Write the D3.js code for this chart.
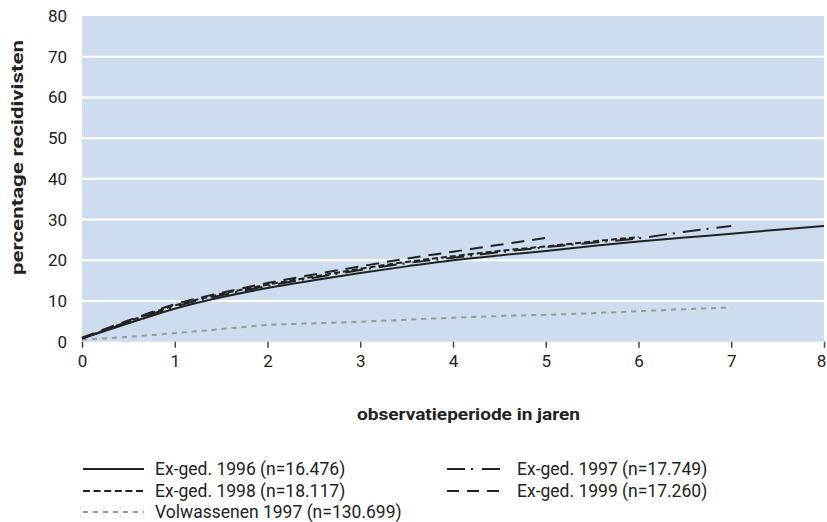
<!DOCTYPE html>
<html><head><meta charset="utf-8">
<script src="https://cdn.jsdelivr.net/npm/d3@7"></script>
<style>
body{margin:0;background:#fff;}
text{font-family:Roboto,"Liberation Sans",sans-serif;fill:#222;}
</style></head>
<body><svg id="c" width="827" height="522"></svg>
<script>
const years = [0,0.5,1,1.5,2,2.5,3,3.5,4,4.5,5,5.5,6,6.5,7,7.5,8];
const s1996 = [0.8,4.5,8.1,10.9,13.2,15.1,16.9,18.5,20.0,21.2,22.3,23.5,24.6,25.6,26.5,27.5,28.4];
const s1997 = [0.8,4.8,8.6,11.4,13.7,15.7,17.6,19.3,20.6,22.0,23.2,24.3,25.4,27.0,28.4];
const s1998 = [0.8,5.0,8.9,11.7,14.0,16.0,17.9,19.6,21.0,22.3,23.4,24.6,25.7];
const s1999 = [1.0,5.2,9.2,12.0,14.4,16.5,18.5,20.4,22.1,23.8,25.5];
const sVolw = [0.5,1.2,2.1,3.1,4.1,4.5,4.9,5.4,5.9,6.3,6.6,7.0,7.5,8.0,8.4];
const xTicks = [0,1,2,3,4,5,6,7,8];
const yTicks = [0,10,20,30,40,50,60,70,80];
const seriesNames = ["Ex-ged. 1996 (n=16.476)","Ex-ged. 1997 (n=17.749)","Ex-ged. 1998 (n=18.117)","Ex-ged. 1999 (n=17.260)","Volwassenen 1997 (n=130.699)"];

const styles = [
  {data:s1996, color:"#222", dash:null, w:2},
  {data:s1997, color:"#222", dash:"18,6,2,8", w:2},
  {data:s1998, color:"#222", dash:"6,3", w:2},
  {data:s1999, color:"#222", dash:"13,8", w:2},
  {data:sVolw, color:"#999", dash:"5,5", w:2}
];

const svg = d3.select("#c");
const L=82, R=824, T=16, B=341.7;
const x = d3.scaleLinear().domain([0,8]).range([L,R]);
const y = d3.scaleLinear().domain([0,80]).range([B,T]);

svg.append("rect").attr("x",L).attr("y",T).attr("width",R-L).attr("height",B-T).attr("fill","#cddcee");
svg.append("g").selectAll("line").data(yTicks.filter(d=>d>0&&d<80)).join("line")
  .attr("x1",L).attr("x2",R).attr("y1",d=>y(d)).attr("y2",d=>y(d))
  .attr("stroke","#fff").attr("stroke-width",2);

// x axis
const xa = svg.append("g").attr("transform",`translate(0,${B})`)
  .call(d3.axisBottom(x).tickValues(xTicks).tickSize(6).tickSizeOuter(0).tickFormat(d3.format("d")));
xa.select(".domain").remove();
xa.selectAll("line").attr("stroke","#444").attr("stroke-width",1.5);
xa.selectAll("text").attr("font-size",17).attr("dy","0.95em").attr("fill","#222")
  .attr("dx",d=>d===8?-3:0);

const ya = svg.append("g").attr("transform",`translate(${L},0)`)
  .call(d3.axisLeft(y).tickValues(yTicks).tickSize(0).tickPadding(15));
ya.select(".domain").remove();
ya.selectAll("text").attr("font-size",17).attr("fill","#222");

const line = d3.line().x((d,i)=>x(years[i])).y(d=>y(d)).curve(d3.curveMonotoneX);
styles.slice().reverse().forEach(s=>{
  svg.append("path").datum(s.data).attr("d",line).attr("fill","none")
    .attr("stroke",s.color).attr("stroke-width",s.w)
    .attr("stroke-dasharray",s.dash);
});

svg.append("text").attr("x",468.5).attr("y",420).attr("text-anchor","middle")
  .attr("font-family","'Liberation Sans',Arial,sans-serif")
  .attr("font-size",17).attr("font-weight","bold")
  .attr("textLength",223).attr("lengthAdjust","spacingAndGlyphs")
  .text("observatieperiode in jaren");
svg.append("text").attr("transform","translate(23,157.5) rotate(-90)").attr("text-anchor","middle")
  .attr("font-family","'Liberation Sans',Arial,sans-serif")
  .attr("font-size",17).attr("font-weight","bold")
  .attr("textLength",235).attr("lengthAdjust","spacingAndGlyphs")
  .text("percentage recidivisten");

// legend
const legPos = [[83,469],[447,469],[83,491],[447,491],[83,512]];
styles.forEach((s,i)=>{
  const [lx,ly]=legPos[i];
  const g=svg.append("g").attr("transform",`translate(${lx},${ly})`);
  let dash = s.dash;
  if(i===2) dash="7,3.6";
  if(i===3) dash="12,8";
  if(i===1) dash="18,6,2,9";
  g.append("line").attr("x1",0).attr("x2",i%2===1?56:61).attr("y1",0).attr("y2",0)
    .attr("stroke",s.color).attr("stroke-width",2).attr("stroke-dasharray",dash);
  g.append("text").attr("x",i%2===1?70:72).attr("y",0).attr("dy","0.35em").attr("font-size",17.5).text(seriesNames[i]);
});
</script></body></html>
